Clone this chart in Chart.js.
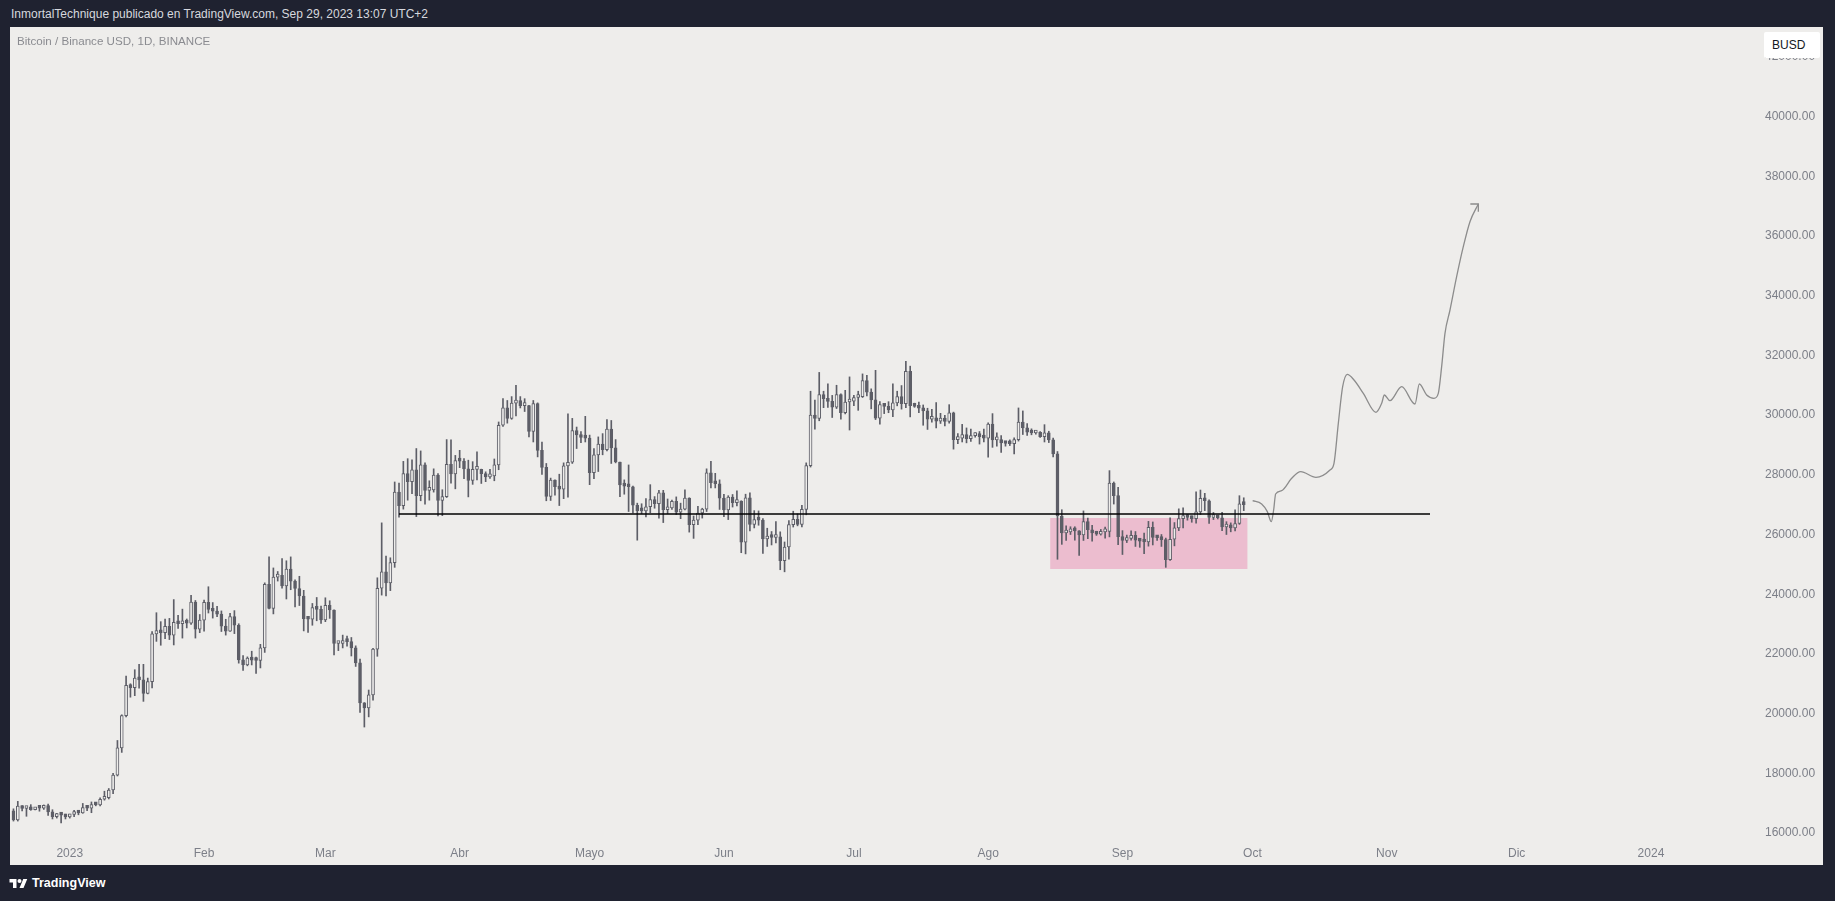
<!DOCTYPE html>
<html><head><meta charset="utf-8">
<script src="https://cdn.jsdelivr.net/npm/chart.js@4.4.1/dist/chart.umd.min.js"></script>
<style>
html,body{margin:0;padding:0;background:#1f2230;width:1835px;height:901px;overflow:hidden;font-family:"Liberation Sans",Arial,sans-serif;}
#hdr{position:absolute;left:11px;top:7px;font-size:12px;color:#d6d8de;white-space:nowrap;}
#panel{position:absolute;left:10px;top:27px;width:1813px;height:838px;background:#eeedeb;}
#sym{position:absolute;left:7px;top:7px;font-size:11.6px;color:#8a8b90;white-space:nowrap;}
#badge{position:absolute;left:1754px;top:5px;width:56px;height:26px;background:#fff;border-radius:2px;font-size:12px;color:#131722;line-height:26px;padding-left:8px;box-sizing:border-box;}
#foot{position:absolute;left:9px;top:875px;height:16px;display:flex;align-items:center;color:#fff;font-weight:bold;font-size:12.5px;}
#foot svg{margin-right:4px;}
canvas{position:absolute;left:0;top:0;}
</style></head>
<body>
<div id="hdr">InmortalTechnique publicado en TradingView.com, Sep 29, 2023 13:07 UTC+2</div>
<div id="panel">
  <canvas id="c" width="1813" height="838"></canvas>
  <div id="sym">Bitcoin / Binance USD, 1D, BINANCE</div>
  <div id="badge">BUSD</div>
</div>
<div id="foot"><svg width="19" height="12" viewBox="0 0 36 24"><path d="M14 22H7V11H0V4h14v18zM28 22h-8l7.5-18h8L28 22z" fill="#fff"/><circle cx="20" cy="8" r="4" fill="#fff"/></svg>TradingView</div>
<script>
// first candle: 2022-12-19 (day index relative to 2023-01-01)
const firstDay = -13;
const opens = [
 16740,16440,16900,16820,16830,16780,16840,16830,16920,16710,16550,16630,16600,
 16540,16620,16680,16670,16850,16830,16950,16940,17130,17180,17440,17940,18850,19930,20950,20870,21190,21130,20680,21070,22670,22780,22710,22920,22630,23060,23010,23080,23030,23740,22830,
 23130,23730,23490,23430,23330,22930,22760,23250,22960,21800,21630,21860,21790,21780,22200,24330,23520,24570,24630,24280,24840,24440,24190,23940,23180,23160,23550,23490,
 23140,23630,23470,22350,22350,22430,22410,22200,21700,20360,20190,20630,22160,24200,24750,24380,25060,27420,26970,28040,27770,28170,27300,28330,27480,27490,27990,27140,27270,28350,28030,
 28480,28460,28200,27810,28180,28180,28040,27930,27960,28330,29660,30240,29890,30400,30490,30320,30320,29450,30390,28820,28250,27280,27820,27600,27520,28300,28420,29480,29340,29250,
 29230,28070,28670,29030,28840,29530,28900,28430,27660,27620,27600,26980,26800,26790,26930,27170,27030,27400,26830,26890,27110,26750,26850,27220,26330,26480,26720,26850,28070,27740,27700,
 27220,26820,27250,27070,27120,25740,27230,26340,26500,26480,25850,25940,25900,25920,25120,25580,26330,26510,26340,26840,28310,30000,29890,30690,30550,30460,30270,30690,30080,30440,
 30470,30590,30620,31160,30770,30510,29900,30350,30290,30170,30410,30620,30380,31470,30320,30290,30230,30140,29860,29910,29800,29900,29790,30080,29180,29230,29350,29210,29310,29350,29280,
 29230,29700,29170,29180,29070,29050,29040,29180,29770,29570,29430,29400,29420,29280,29410,29170,28700,26620,26050,26090,26190,26120,25990,26430,26160,26050,26010,26090,26100,27720,27300,
 25930,25800,25870,25970,25810,25780,25750,26240,25900,25890,25830,25160,25840,26220,26530,26600,26570,26530,26760,27210,27130,26570,26580,26560,26250,26300,26220,26370,27030
];
const highs = [
 16810,17060,16920,16870,16950,16860,16860,16940,16970,16780,16660,16650,16630,
 16630,16760,16760,16990,16880,17040,16990,17180,17400,17490,18000,19100,19960,21260,21000,21470,21650,21650,21190,22750,23380,23080,23170,23190,23820,23290,23500,23170,23960,23790,23320,
 23800,24250,23720,23590,23440,23160,23360,23450,23010,21940,21900,22090,21890,22320,24380,25250,24880,24760,25190,25120,25250,24480,24600,24130,23220,23690,23890,23600,
 23880,23780,23480,22400,22630,22600,22550,22270,21830,20370,20790,22190,24550,26390,25280,25220,27760,27720,28450,28540,28500,28880,28800,28400,27800,28200,28040,27500,29180,29170,28650,
 28820,28540,28490,28440,28770,28190,28100,28180,28530,29770,30550,30490,30620,31000,30620,30550,30330,30490,30410,29100,28380,27890,27830,28020,28400,30040,29890,29600,29450,29960,
 29330,28880,29270,29380,29850,29820,29180,28430,27830,28330,27620,27050,27030,27200,27670,27270,27480,27480,27190,27150,27260,27050,27500,27230,26620,26940,26880,28200,28450,28050,27830,
 27350,27300,27340,27460,27130,27350,27400,26800,26790,26530,26210,26100,26430,26090,25750,26470,26780,26690,26980,28400,30800,30500,31430,30800,31050,30660,31000,30710,30830,31280,
 30660,30800,31380,31330,30880,31500,30450,30380,30450,31050,30800,30990,31800,31640,30400,30440,30340,30230,30190,30420,30060,29990,30350,30100,29380,29690,29570,29530,29410,29450,29530,
 29740,30050,29410,29310,29110,29170,29240,30240,30140,29720,29540,29470,29450,29680,29460,29230,28780,26830,26290,26260,26260,26130,26790,26550,26310,26110,26170,26250,28140,27760,27580,
 26130,25980,26120,26100,25860,26050,26440,26420,25940,26000,25880,26560,26400,26860,26890,26670,26620,27430,27490,27380,27160,26740,26640,26740,26430,26390,26830,27300,27230
];
const lows = [
 16400,16400,16740,16560,16760,16770,16730,16790,16590,16470,16500,16340,16470,
 16500,16550,16610,16660,16750,16680,16910,16910,17100,17140,17320,17910,18700,19890,20550,20600,20850,20410,20660,20860,22420,22290,22510,22480,22300,22850,22530,22870,22990,22530,22710,
 22760,23370,23200,23250,22750,22630,22750,22680,21690,21450,21600,21630,21350,21530,22050,23510,23340,24440,24200,23840,24150,23570,23620,22770,22720,22960,23110,23020,
 23080,23190,21970,22110,22200,22260,21930,21580,20040,19550,19890,20450,21920,23970,23940,24120,24900,26580,26850,27150,27370,26600,27130,27020,27150,27420,26620,26630,27240,27720,27530,
 28240,27870,27260,27680,27830,27710,27770,27880,27800,28170,29620,29730,29860,29970,30240,30120,29270,29100,28600,28010,27130,27140,27320,26970,27200,27250,28380,28880,29080,29100,
 27670,27870,28110,28670,28800,28380,28400,27270,27350,26770,26720,25810,26700,26590,26730,26880,26550,26400,26700,26840,26670,26530,26820,26080,25870,26330,26550,26770,27560,27560,26840,
 26600,26500,26920,26960,25390,25350,26120,26220,26310,25370,25600,25650,25720,24820,24750,25170,26250,26290,26250,26660,28260,29530,29810,30250,30260,29920,30220,29860,30040,29500,
 30320,30160,30590,30640,30210,29850,29700,30050,30080,29950,30310,30200,30250,29940,30260,30080,29660,29520,29760,29570,29720,29640,29730,28860,29040,29100,29070,29120,29260,29030,29100,
 28590,28920,28960,28750,28960,28980,28700,29130,29350,29320,29340,29360,29250,29100,29080,28600,25170,25670,25800,26000,25810,25300,25800,25860,25780,25970,25980,25880,25920,27020,25660,
 25330,25730,25810,25600,25570,25360,25610,25650,25800,25600,24900,25130,25620,26130,26220,26480,26410,26380,26670,26800,26370,26500,26520,26130,26000,26090,26120,26340,26800
];
const closes = [
 16440,16900,16820,16830,16780,16840,16830,16920,16710,16550,16630,16600,16540,
 16620,16680,16670,16850,16830,16950,16940,17130,17180,17440,17940,18850,19930,20950,20870,21190,21130,20680,21070,22670,22780,22710,22920,22630,23060,23010,23080,23030,23740,22830,23130,
 23730,23490,23430,23330,22930,22760,23250,22960,21800,21630,21860,21790,21780,22200,24330,23520,24570,24630,24280,24840,24440,24190,23940,23180,23160,23550,23490,23140,
 23630,23470,22350,22350,22430,22410,22200,21700,20360,20190,20630,22160,24200,24750,24380,25060,27420,26970,28040,27770,28170,27300,28330,27480,27490,27990,27140,27270,28350,28030,28480,
 28460,28200,27810,28180,28180,28040,27930,27960,28330,29660,30240,29890,30400,30490,30320,30320,29450,30390,28820,28250,27280,27820,27600,27520,28300,28420,29480,29340,29250,29230,
 28070,28670,29030,28840,29530,28900,28430,27660,27620,27600,26980,26800,26790,26930,27170,27030,27400,26830,26890,27110,26750,26850,27220,26330,26480,26720,26850,28070,27740,27700,27220,
 26820,27250,27070,27120,25740,27230,26340,26500,26480,25850,25940,25900,25920,25120,25580,26330,26510,26340,26840,28310,30000,29890,30690,30550,30460,30270,30690,30080,30440,30470,
 30590,30620,31160,30770,30510,29900,30350,30290,30170,30410,30620,30380,31470,30320,30290,30230,30140,29860,29910,29800,29900,29790,30080,29180,29230,29350,29210,29310,29350,29280,29230,
 29700,29170,29180,29070,29050,29040,29180,29770,29570,29430,29400,29420,29280,29410,29170,28700,26620,26050,26090,26190,26120,25990,26430,26160,26050,26010,26090,26100,27720,27300,25930,
 25800,25870,25970,25810,25780,25750,26240,25900,25890,25830,25160,25840,26220,26530,26600,26570,26530,26760,27210,27130,26570,26580,26560,26250,26300,26220,26370,27030,27000
];

const monthLabels = ['2023','Feb','Mar','Abr','Mayo','Jun','Jul','Ago','Sep','Oct','Nov','Dic','2024'];
const monthDays   = [0,31,59,90,120,151,181,212,243,273,304,334,365];
const priceTicks  = [16000,18000,20000,22000,24000,26000,28000,30000,32000,34000,36000,38000,40000,42000];

// drawn horizontal level
const levelPrice = 26687;
const levelDays = [76, 314];
// pink range box
const zoneTop = 26553, zoneBottom = 24844;
const zoneDays = [226.3, 271.9];
// hand drawn projection path
const forecastDays = [273.05,275.13,276.44,277.36,277.90,278.36,279.75,282.06,284.14,287.67,290.91,291.83,292.83,293.83,294.91,296.45,298.60,301.52,302.84,303.45,304.76,307.45,310.53,311.53,313.22,314.91,315.91,316.68,317.45,318.61,320.14,321.68,323.22,325.15];
const forecastPrices = [27133,27022,26765,26430,26821,27357,27468,27882,28105,27915,28161,28384,29724,30952,31366,31176,30729,30093,30394,30673,30483,30952,30372,31042,30673,30562,30729,31622,32739,33521,34637,35643,36480,37072];
const arrowDays = [323.3, 325.15, 325.15];
const arrowPrices = [37072, 37072, 36814];

const BG = '#eeedeb', CANDLE = '#5d5e67';
const days = opens.map((_, i) => firstDay + i);

Chart.defaults.font.family = "'Liberation Sans', Arial, sans-serif";
Chart.defaults.font.size = 12;

new Chart(document.getElementById('c'), {
  type: 'bar',
  data: {
    datasets: [
      { type:'line', data: zoneDays.map(d=>({x:d,y:zoneTop})), borderWidth:0, borderColor:'rgba(0,0,0,0)', pointRadius:0, fill:'+1', backgroundColor:'#ecbdcf', order:10 },
      { type:'line', data: zoneDays.map(d=>({x:d,y:zoneBottom})), borderWidth:0, borderColor:'rgba(0,0,0,0)', pointRadius:0, fill:false, order:11 },
      { label:'wicks', data: days.map((d,i)=>({x:d, y:[lows[i], highs[i]]})), backgroundColor: CANDLE, barThickness:1, grouped:false, order:3 },
      { label:'bodies', data: days.map((d,i)=>({x:d, y:[opens[i], closes[i]]})),
        backgroundColor: days.map((d,i)=> closes[i] >= opens[i] ? BG : CANDLE),
        borderColor: CANDLE, borderWidth:1, borderSkipped:false, barThickness:3, minBarLength:3, grouped:false, order:2 },
      { type:'line', data: levelDays.map(d=>({x:d,y:levelPrice})), borderColor:'#000', borderWidth:1.3, pointRadius:0, fill:false, order:1 },
      { type:'line', data: forecastDays.map((d,i)=>({x:d,y:forecastPrices[i]})), borderColor:'#8c8c8c', borderWidth:1.3, pointRadius:0, fill:false, cubicInterpolationMode:'monotone', order:1 },
      { type:'line', data: arrowDays.map((d,i)=>({x:d,y:arrowPrices[i]})), borderColor:'#8c8c8c', borderWidth:1.3, pointRadius:0, fill:false, tension:0, order:1 }
    ]
  },
  options: {
    responsive:false, animation:false, devicePixelRatio:1,
    layout:{ padding:0 },
    plugins:{ legend:{display:false}, tooltip:{enabled:false}, title:{display:false} },
    scales: {
      x: { type:'linear', min:-13.80, max:390.17, offset:false,
           grid:{display:false, drawTicks:false}, border:{display:false},
           afterBuildTicks: s => { s.ticks = monthDays.map(v=>({value:v})); },
           afterFit: s => { s.height = 24; s.paddingLeft = 0; s.paddingRight = 0; },
           ticks:{ autoSkip:false, maxRotation:0, minRotation:0, padding:5, color:'#7c7f88',
                   callback:(v,i)=> monthLabels[i] } },
      y: { type:'linear', position:'right', min:15732, max:43002, beginAtZero:false,
           grid:{display:false, drawTicks:false}, border:{display:false},
           afterBuildTicks: s => { s.ticks = priceTicks.map(v=>({value:v})); },
           afterFit: s => { s.width = 63; s.paddingTop = 0; s.paddingBottom = 0; },
           ticks:{ padding:5, color:'#7c7f88', callback:(v)=> Number(v).toFixed(2) } }
    }
  }
});
</script>
</body></html>
